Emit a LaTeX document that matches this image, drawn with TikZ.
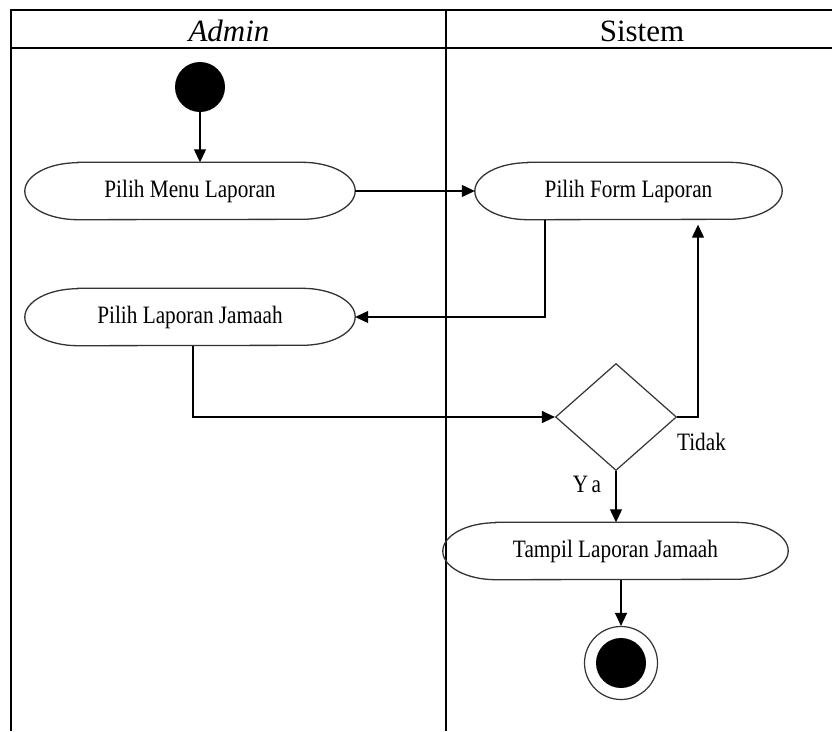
\documentclass[tikz,border=0pt]{standalone}
\usepackage{fontspec}
\usepackage{graphicx}
\setmainfont{Liberation Serif}
\usetikzlibrary{arrows.meta,shapes.geometric}

% activity label font: a narrow serif
\newcommand\acttxt[1]{\scalebox{0.85}[1]{\fontsize{25}{25}\selectfont #1}}
% activity node with elliptical ends
\newcommand\actnode[5]{%
  \node[minimum width=#4, minimum height=57pt, inner sep=0pt] (#1) at (#2,#3) {\acttxt{#5}};
  \draw[actline] ([xshift=53pt]#1.north west) -- ([xshift=-53pt]#1.north east)
    arc[start angle=90, end angle=-90, x radius=53pt, y radius=28.5pt]
    -- ([xshift=53pt]#1.south west)
    arc[start angle=270, end angle=90, x radius=53pt, y radius=28.5pt] -- cycle;
}

\tikzset{
  frame/.style={line width=1.4pt, black},
  divider/.style={line width=1.1pt, black},
  actline/.style={line width=1.3pt, black!80},
  flow/.style={line width=1.2pt, black, -{Triangle[length=13pt,width=12pt]}},
  lbl/.style={inner sep=0pt},
}

\begin{document}
\begin{tikzpicture}[x=1pt,y=-1pt]
\useasboundingbox (0,0) rectangle (832,731);

% swimlane frame
\draw[frame] (832,10) -- (11,10) -- (11,731);
\draw[frame] (11,48) -- (832,48);
\draw[divider] (446,10) -- (446,731);
\node[anchor=base, inner sep=0pt] (hadmin) at (229,41) {\fontsize{31}{31}\selectfont\itshape Admin};
\node[anchor=base, inner sep=0pt] (hsistem) at (642,41) {\fontsize{31}{31}\selectfont Sistem};

% initial and final states
\node[circle, fill=black, minimum size=50pt, inner sep=0pt] (start) at (200,87) {};
\node[circle, draw=black!80, line width=1.2pt, minimum size=73pt, inner sep=0pt] (end) at (621,663) {};
\node[circle, fill=black, minimum size=50pt, inner sep=0pt] (endcore) at (end) {};

% activities
\actnode{n1}{190}{191}{330pt}{Pilih Menu Laporan}
\actnode{n3}{628.5}{191}{307pt}{Pilih Form Laporan}
\actnode{n2}{190}{317}{330pt}{Pilih Laporan Jamaah}
\actnode{n4}{615.5}{551}{345pt}{Tampil Laporan Jamaah}

% decision
\node[diamond, draw=black!80, line width=1.2pt, minimum width=121pt, minimum height=107pt, inner sep=0pt] (dec) at (616,417) {};

% flows
\draw[flow] (start.south) -- (start.south |- n1.north);
\draw[flow] (n1.east) -- (n3.west);
\draw[flow] ([xshift=-83.5pt]n3.south) |- (n2.east);
\draw[flow] ([xshift=3pt]n2.south) |- (dec.west);
\draw[flow] (dec.east) -| ([xshift=69.5pt,yshift=-5pt]n3.south);
\draw[flow] (dec.south) -- (dec.south |- n4.north);
\draw[flow] (end.north |- n4.south) -- (end.north);

% guards
\node[lbl] (tidak) at (701.5,442) {\acttxt{Tidak}};
\node[lbl] (ya) at (587,484) {\acttxt{Y\,a}};
\end{tikzpicture}
\end{document}
